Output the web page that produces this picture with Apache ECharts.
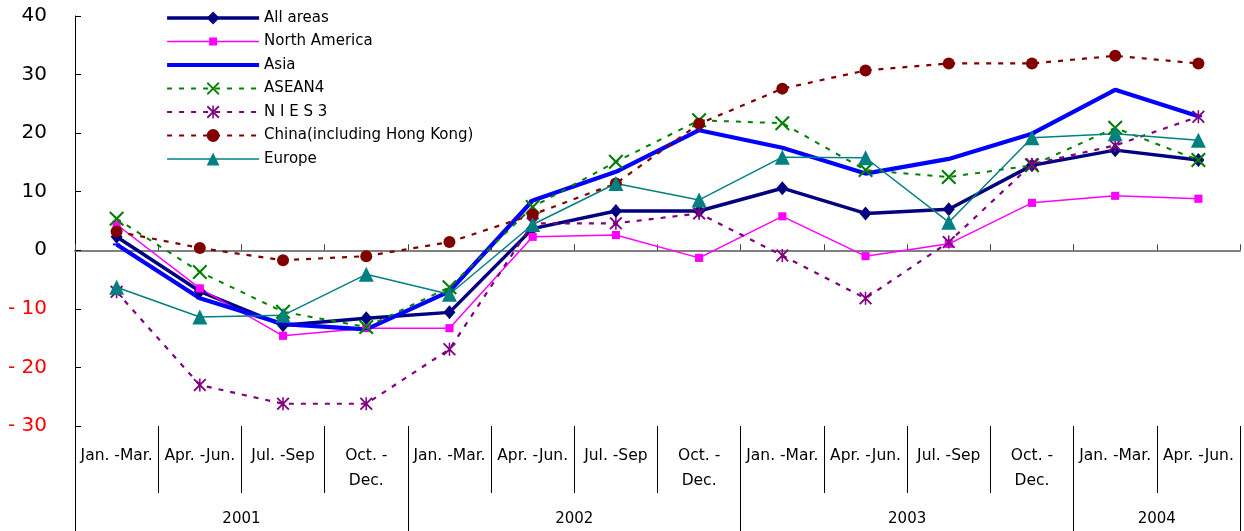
<!DOCTYPE html>
<html>
<head>
<meta charset="utf-8">
<style>
  html, body { margin: 0; padding: 0; background: #fff; }
  #chart { width: 1244px; height: 531px; }
</style>
<script src="https://cdn.jsdelivr.net/npm/echarts@6/dist/echarts.min.js"></script>
</head>
<body>
<div id="chart"></div>
<script>
// Quarterly periods and the year bands they belong to
const quarters = [
  'Jan. -Mar.', 'Apr. -Jun.', 'Jul. -Sep', 'Oct. -\nDec.',
  'Jan. -Mar.', 'Apr. -Jun.', 'Jul. -Sep', 'Oct. -\nDec.',
  'Jan. -Mar.', 'Apr. -Jun.', 'Jul. -Sep', 'Oct. -\nDec.',
  'Jan. -Mar.', 'Apr. -Jun.'
];
const years = ['2001', '2002', '2003', '2004'];
const yearBounds = [0, 4, 8, 12, 14];     // quarter index where each year starts/ends
const yearCentres = [2, 6, 10, 13];

// Year-on-year change (%) by region
const allAreas     = [2.3, -7.0, -12.8, -11.6, -10.6, 3.7, 6.7, 6.7, 10.6, 6.3, 7.0, 14.5, 17.1, 15.4];
const northAmerica = [4.4, -6.5, -14.6, -13.3, -13.3, 2.3, 2.6, -1.3, 5.8, -1.0, 1.1, 8.1, 9.3, 8.8];
const asia         = [1.0, -8.2, -12.6, -13.5, -7.0, 8.5, 13.4, 20.5, 17.5, 13.1, 15.6, 19.9, 27.4, 22.9];
const asean4       = [5.4, -3.7, -10.5, -13.1, -6.3, 7.4, 15.1, 22.2, 21.7, 13.7, 12.5, 14.5, 20.9, 15.4];
const nies3        = [-7.1, -23.0, -26.2, -26.2, -16.9, 4.6, 4.6, 6.3, -0.9, -8.2, 1.4, 14.7, 17.9, 22.8];
const china        = [3.2, 0.4, -1.7, -1.0, 1.4, 6.1, 11.4, 21.6, 27.6, 30.7, 31.9, 31.9, 33.2, 31.9];
const europe       = [-6.3, -11.4, -11.1, -4.1, -7.5, 4.4, 11.4, 8.6, 15.9, 15.8, 4.8, 19.2, 19.9, 18.8];

const FONT = "'DejaVu Sans', 'Liberation Sans', Arial, sans-serif";
// Marker shapes; the leading move-to points pad the shape inside its box
const X_PATH = 'path://M0,1L1,0L5,4L9,0L10,1L6,5L10,9L9,10L5,6L1,10L0,9L4,5Z';
const STAR_PATH = 'path://M0,1L1,0L5,4L9,0L10,1L6,5L10,9L9,10L5,6L1,10L0,9L4,5Z M4.4,0H5.6V10H4.4Z';
const SMALL_SQUARE = 'path://M0,0M16,16M3,3H13V13H3Z';
const DASH_MARK = 'path://M0,0M10,10M2,4.2H8V5.8H2Z';

const regions = [
  { name: 'All areas', data: allAreas, color: '#000080', width: 3.5, type: 'solid', symbol: 'diamond', size: [12, 14] },
  { name: 'North America', data: northAmerica, color: '#ff00ff', width: 1.5, type: 'solid', symbol: SMALL_SQUARE, size: 13 },
  { name: 'Asia', data: asia, color: '#0000ff', width: 4.2, type: 'solid', symbol: DASH_MARK, size: 12 },
  { name: 'ASEAN4', data: asean4, color: '#008000', width: 2, type: [5, 7], symbol: X_PATH, size: 15 },
  { name: 'N I E S 3', data: nies3, color: '#800080', width: 2.2, type: [5, 7], symbol: STAR_PATH, size: 13 },
  { name: 'China(including Hong Kong)', data: china, color: '#800000', width: 2.2, type: [5, 7], symbol: 'circle', size: 12 },
  { name: 'Europe', data: europe, color: '#008080', width: 1.5, type: 'solid', symbol: 'triangle', size: 15 }
];

const chart = echarts.init(document.getElementById('chart'), null, { renderer: 'canvas' });
chart.setOption({
  animation: false,
  backgroundColor: '#fff',
  textStyle: { fontFamily: FONT },
  grid: { left: 75, right: 4, top: 16, bottom: 105, containLabel: false },
  legend: {
    orient: 'vertical', left: 165, top: 10, padding: 0,
    itemWidth: 92, itemHeight: 16, itemGap: 7.5,
    textStyle: { fontSize: 15, lineHeight: 16, color: '#000', fontFamily: FONT },
    selectedMode: false,
    data: regions.map(r => ({ name: r.name, lineStyle: { width: r.width, type: r.type } }))
  },
  xAxis: [
    { // zero line with boundary ticks
      type: 'category', data: quarters, boundaryGap: true,
      axisLine: { onZero: true, lineStyle: { color: '#808080', width: 2 } },
      axisTick: { show: true, inside: true, length: 6, interval: 0, lineStyle: { color: '#444', width: 1 } },
      axisLabel: { show: false },
      splitLine: { show: false }
    },
    { // quarter labels with separators
      type: 'category', data: quarters, boundaryGap: true, position: 'bottom',
      axisLine: { show: false, onZero: false },
      axisTick: { show: true, length: 67, interval: 0, lineStyle: { color: '#000', width: 1 } },
      axisLabel: {
        interval: 0, margin: 17, fontSize: 15.5, color: '#000', fontFamily: FONT,
        lineHeight: 25, verticalAlign: 'top', align: 'center'
      },
      splitLine: { show: false }
    },
    { // year bands
      type: 'value', min: 0, max: 14, position: 'bottom',
      axisLine: { show: false, onZero: false },
      axisTick: { show: true, length: 105, customValues: yearBounds, lineStyle: { color: '#000', width: 1 } },
      axisLabel: {
        customValues: yearCentres, margin: 86, fontSize: 15, color: '#000', fontFamily: FONT,
        formatter: v => years[yearCentres.indexOf(v)]
      },
      splitLine: { show: false }
    }
  ],
  yAxis: {
    type: 'value', min: -30, max: 40, interval: 10,
    axisLine: { show: true, lineStyle: { color: '#000', width: 1 } },
    axisTick: { show: true, inside: true, length: 6, lineStyle: { color: '#000' } },
    axisLabel: {
      margin: 28, fontSize: 20, fontFamily: FONT,
      color: v => (Number(v) < 0 ? '#ff0000' : '#000000'),
      formatter: v => v < 0 ? '- ' + Math.abs(v) : String(v)
    },
    splitLine: { show: false }
  },
  series: regions.map(r => ({
    name: r.name, type: 'line', data: r.data,
    xAxisIndex: 0, yAxisIndex: 0,
    symbol: r.symbol, symbolSize: r.size, showSymbol: true,
    lineStyle: { color: r.color, width: r.width, type: r.type },
    itemStyle: { color: r.color, borderWidth: 0 },
    emphasis: { disabled: true },
    z: 3
  }))
});
</script>
</body>
</html>
